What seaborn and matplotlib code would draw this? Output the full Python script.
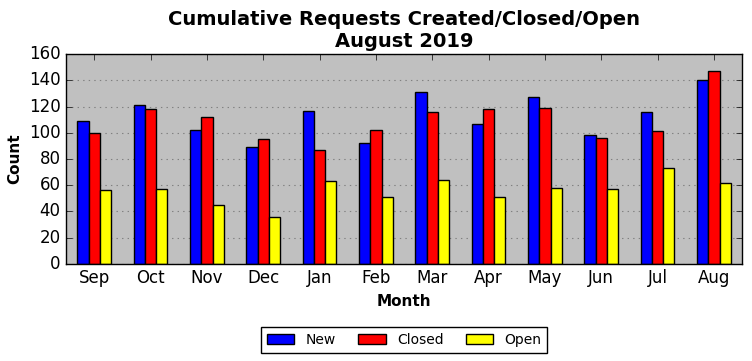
import pandas as pd
import matplotlib
matplotlib.use("Agg")
import matplotlib.pyplot as plt
import seaborn as sns

months = ["Sep", "Oct", "Nov", "Dec", "Jan", "Feb", "Mar", "Apr", "May", "Jun", "Jul", "Aug"]
new = [109, 121, 102, 89, 117, 92, 131, 107, 127, 98, 116, 140]
closed = [100, 118, 112, 95, 87, 102, 116, 118, 119, 96, 101, 147]
open_ = [56, 57, 45, 36, 63, 51, 64, 51, 58, 57, 73, 62]

df = pd.DataFrame({
    "Month": months * 3,
    "Count": new + closed + open_,
    "Status": ["New"] * 12 + ["Closed"] * 12 + ["Open"] * 12,
})

plt.style.use("classic")
fig = plt.figure(figsize=(7.52, 3.61), dpi=100, facecolor="white")
ax = fig.add_axes([0.0878, 0.269, 0.899, 0.581])
ax.set_facecolor("#c0c0c0")

sns.barplot(data=df, x="Month", y="Count", hue="Status", order=months,
            palette={"New": "blue", "Closed": "red", "Open": "yellow"},
            width=0.6, edgecolor="black", linewidth=1, saturation=1, ax=ax)

ax.set_xlim(-0.5, 11.5)
ax.set_ylim(0, 160)
ax.set_yticks(range(0, 161, 20))
ax.yaxis.grid(True, linestyle=(0, (1, 3)), color="#808080", linewidth=0.8)
ax.xaxis.grid(False)
ax.set_axisbelow(True)
ax.tick_params(axis="both", labelsize=12, direction="in", top=True, right=True)
ax.set_title("Cumulative Requests Created/Closed/Open\nAugust 2019",
             fontsize=14, fontweight="bold")
ax.set_xlabel("Month", fontsize=11, fontweight="bold")
ax.set_ylabel("Count", fontsize=11, fontweight="bold")
ax.legend(loc="upper center", bbox_to_anchor=(0.5, -0.27), ncol=3,
          fontsize=10, fancybox=False, frameon=True, columnspacing=1.6)

fig.savefig("out.png", dpi=100, facecolor="white")
